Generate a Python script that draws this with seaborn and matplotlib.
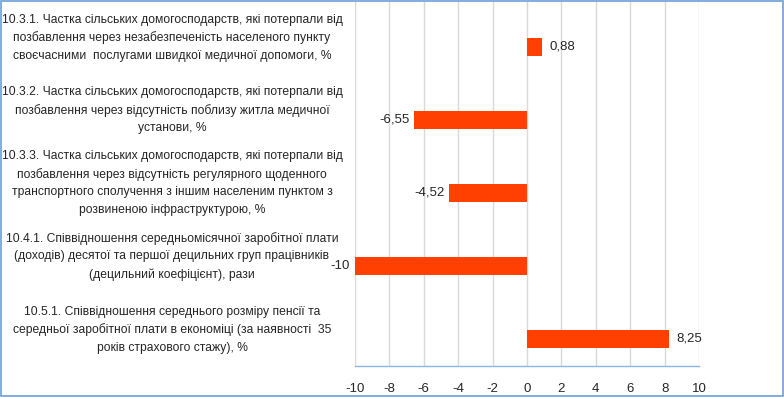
import numpy as np
import pandas as pd
import seaborn as sns
import matplotlib
matplotlib.use('Agg')
import matplotlib.pyplot as plt
import matplotlib.transforms as mtransforms
from matplotlib.patches import Rectangle

# indicators (category codes + full label text)
codes = ['10.3.1', '10.3.2', '10.3.3', '10.4.1', '10.5.1']
labels = [
    '10.3.1. Частка сільських домогосподарств, які потерпали від\n'
    'позбавлення через незабезпеченість населеного пункту\n'
    'своєчасними  послугами швидкої медичної допомоги, %',
    '10.3.2. Частка сільських домогосподарств, які потерпали від\n'
    'позбавлення через відсутність поблизу житла медичної\n'
    'установи, %',
    '10.3.3. Частка сільських домогосподарств, які потерпали від\n'
    'позбавлення через відсутність регулярного щоденного\n'
    'транспортного сполучення з іншим населеним пунктом з\n'
    'розвиненою інфраструктурою, %',
    '10.4.1. Співвідношення середньомісячної заробітної плати\n'
    '(доходів) десятої та першої децильних груп працівників\n'
    '(децильний коефіцієнт), рази',
    '10.5.1. Співвідношення середнього розміру пенсії та\n'
    'середньої заробітної плати в економіці (за наявності  35\n'
    'років страхового стажу), %',
]
values = [0.88, -6.55, -4.52, -10, 8.25]
value_text = ['0,88', '-6,55', '-4,52', '-10', '8,25']
x_ticks = [-10, -8, -6, -4, -2, 0, 2, 4, 6, 8, 10]

bar_color = '#ff4000'
grid_color = '#d9d9d9'
blue = '#6a9fd4'

# Excel-style clustered bar: an empty first series shifts the real bar down
df = pd.concat([
    pd.DataFrame({'cat': codes, 'value': [np.nan] * len(codes), 'series': 'blank'}),
    pd.DataFrame({'cat': codes, 'value': values, 'series': 'value'}),
], ignore_index=True)

sns.set_style('white')
plt.rcParams['font.family'] = ['Liberation Sans', 'DejaVu Sans']

fig = plt.figure(figsize=(7.84, 3.97), dpi=100)
ax = fig.add_axes([355 / 784, 31 / 397, 344 / 784, 365 / 397])

sns.barplot(data=df, x='value', y='cat', hue='series', hue_order=['blank', 'value'],
            palette={'blank': bar_color, 'value': bar_color}, order=codes,
            width=0.52, dodge=True, errorbar=None, saturation=1, linewidth=0,
            legend=False, ax=ax)

ax.set_xlim(-10, 10)
ax.set_xticks(x_ticks)
ax.set_xticklabels([str(t) for t in x_ticks], fontsize=9.5)
ax.tick_params(axis='x', length=0, pad=12)
ax.set_yticks([])
ax.set_xlabel('')
ax.set_ylabel('')
ax.grid(axis='x', color=grid_color, linewidth=1)
ax.set_axisbelow(True)
for side in ['top', 'right', 'left']:
    ax.spines[side].set_visible(False)
ax.spines['bottom'].set_color('#8eb4e3')
ax.spines['bottom'].set_linewidth(1)

# value labels next to bars
bars = [p for p in ax.patches if np.isfinite(p.get_width()) and p.get_width() != 0]
bars.sort(key=lambda p: p.get_y())
for p, txt in zip(bars, value_text):
    w = p.get_width()
    yc = p.get_y() + p.get_height() / 2
    if w >= 0:
        ax.annotate(txt, (w, yc), xytext=(7, 0), textcoords='offset pixels',
                    ha='left', va='center', fontsize=9.5)
    else:
        ax.annotate(txt, (w, yc), xytext=(-5, 0), textcoords='offset pixels',
                    ha='right', va='center', fontsize=9.5, annotation_clip=False)

# category labels, centred in the left area, one line at a time
trans = mtransforms.blended_transform_factory(fig.transFigure, ax.transData)
line_px = 18
for i, lab in enumerate(labels):
    lines = lab.split('\n')
    n = len(lines)
    for k, line in enumerate(lines):
        dy = -(k - (n - 1) / 2) * line_px
        ax.annotate(line, (172 / 784, i), xycoords=trans, xytext=(0, dy),
                    textcoords='offset pixels', ha='center', va='center',
                    fontsize=8.7, annotation_clip=False)

# outer border
fig.patches.append(Rectangle((0.0008, 0.0015), 0.9984, 0.997, transform=fig.transFigure,
                             fill=False, edgecolor=blue, linewidth=1.2))

fig.savefig('out.png', dpi=100)
